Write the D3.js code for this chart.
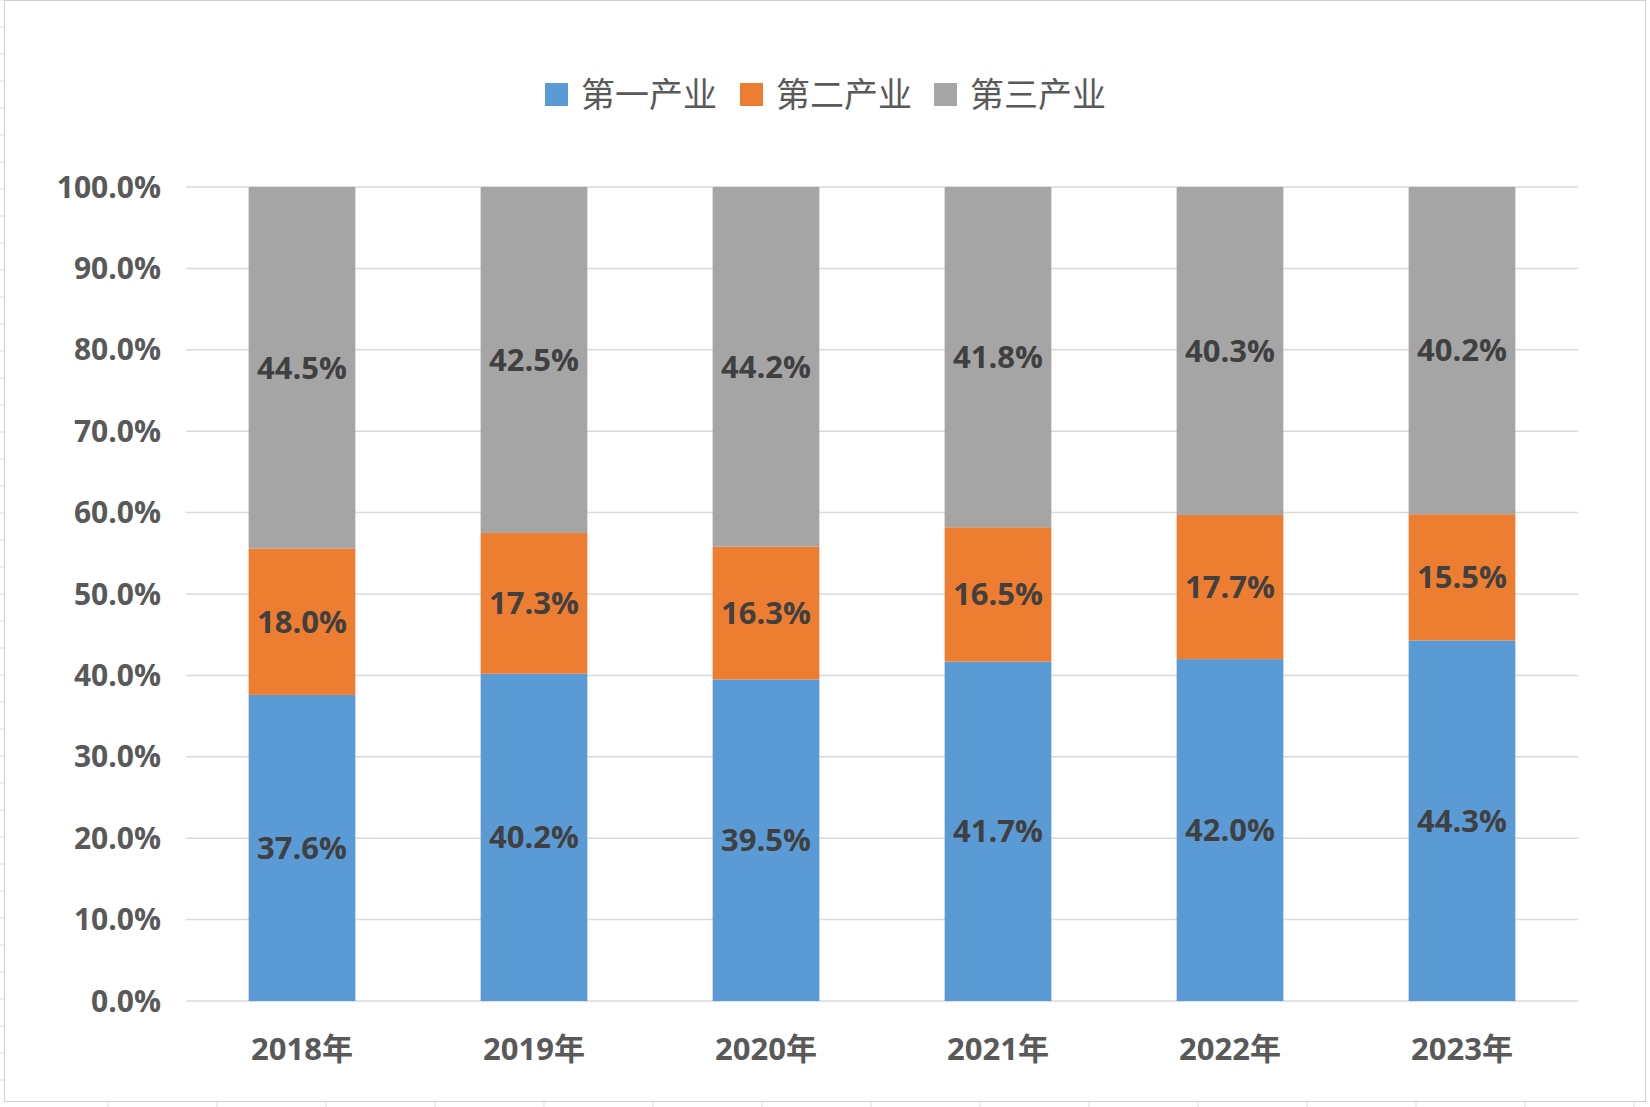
<!DOCTYPE html>
<html><head><meta charset="utf-8">
<script src="https://cdn.jsdelivr.net/npm/d3@7"></script>
<style>body{margin:0;background:#fff}svg{display:block}</style>
</head><body><svg class="chart"></svg>
<script>
var years = ["2018年","2019年","2020年","2021年","2022年","2023年"];
var primary = [37.6,40.2,39.5,41.7,42.0,44.3];
var secondary = [18.0,17.3,16.3,16.5,17.7,15.5];
var tertiary = [44.5,42.5,44.2,41.8,40.3,40.2];
var seriesNames = ["第一产业","第二产业","第三产业"];
var colors = ["#5b9bd5","#ed7d31","#a5a5a5"];
var yTicks = [0,10,20,30,40,50,60,70,80,90,100];

var width = 1650, height = 1107;
var margin = {top: 187, right: 72, bottom: 106, left: 186};
var svg = d3.select(".chart").attr("width", width).attr("height", height);

// spreadsheet cell lines behind the chart
var bg = svg.append("g").attr("stroke", "#d9dde6");
d3.range(0, height, 27).forEach(function(v){ bg.append("line").attr("x1",0).attr("x2",8).attr("y1",v).attr("y2",v); });
d3.range(108, width, 109).forEach(function(v){ bg.append("line").attr("x1",v).attr("x2",v).attr("y1",1102).attr("y2",height); });
svg.append("rect").attr("x",4.5).attr("y",0.5).attr("width",1641).attr("height",1101)
  .attr("fill","#fff").attr("stroke","#d0d0d0");

var x = d3.scaleBand().domain(years).range([margin.left, width - margin.right])
  .paddingInner(0.54).paddingOuter(0.27);
var y = d3.scaleLinear().domain([0, 100]).range([height - margin.bottom, margin.top]);

svg.append("g").selectAll("line").data(yTicks).enter().append("line")
  .attr("x1", margin.left).attr("x2", width - margin.right)
  .attr("y1", d => y(d)).attr("y2", d => y(d))
  .attr("stroke", "#d9d9d9").attr("stroke-width", 1.5);

svg.append("g").selectAll("text").data(yTicks).enter().append("text")
  .attr("x", 161).attr("y", d => y(d)).attr("dy", "0.35em")
  .attr("text-anchor", "end").attr("font-family", "Open Sans, sans-serif")
  .attr("font-weight", "bold").attr("font-size", 30).attr("fill", "#595959")
  .text(d => d.toFixed(1) + "%");

var rows = years.map((yr, i) => ({year: yr, s0: primary[i], s1: secondary[i], s2: tertiary[i]}));
var stack = d3.stack().keys(["s0","s1","s2"]);
var layers = stack(rows);

layers.forEach(function(layer, k) {
  var g = svg.append("g");
  g.selectAll("rect").data(layer).enter().append("rect")
    .attr("x", d => x(d.data.year)).attr("width", x.bandwidth())
    .attr("y", d => y(Math.min(100, d[1])))
    .attr("height", d => y(d[0]) - y(Math.min(100, d[1])))
    .attr("fill", colors[k]);
  g.selectAll("text").data(layer).enter().append("text")
    .attr("x", d => x(d.data.year) + x.bandwidth() / 2)
    .attr("y", d => y((d[0] + Math.min(100, d[1])) / 2)).attr("dy", "0.35em")
    .attr("text-anchor", "middle").attr("font-family", "Open Sans, sans-serif")
    .attr("font-weight", "bold").attr("font-size", 31).attr("fill", "#404040")
    .text(d => (d[1] - d[0]).toFixed(1) + "%");
});

svg.append("g").selectAll("text").data(years).enter().append("text")
  .attr("x", d => x(d) + x.bandwidth() / 2).attr("y", 1049).attr("dy", "0.35em")
  .attr("text-anchor", "middle").attr("font-family", "Open Sans, Noto Sans CJK SC, sans-serif")
  .attr("font-weight", "bold").attr("font-size", 31).attr("fill", "#595959")
  .text(d => d);

var legend = svg.append("g");
var lx = [545, 740, 934];
seriesNames.forEach(function(n, k) {
  legend.append("rect").attr("x", lx[k]).attr("y", 83).attr("width", 23).attr("height", 23).attr("fill", colors[k]);
  legend.append("text").attr("x", lx[k] + 36).attr("y", 95).attr("dy", "0.35em")
    .attr("font-family", "Noto Sans CJK SC, sans-serif").attr("font-size", 34).attr("fill", "#595959")
    .text(n);
});
</script></body></html>
